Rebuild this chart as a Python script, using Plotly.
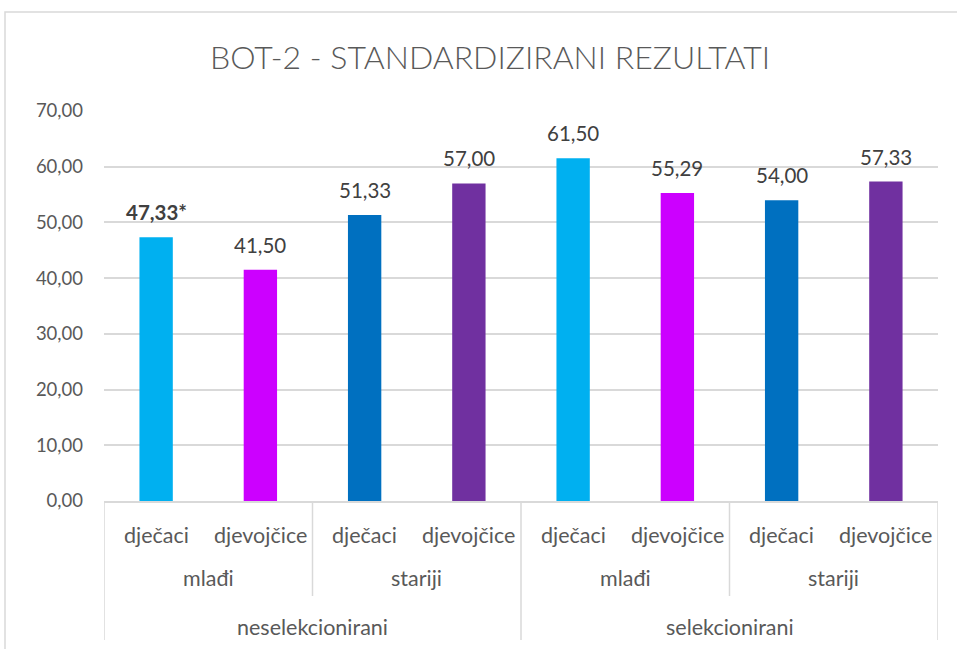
import plotly.graph_objects as go

# Data
groups = ["neselekcionirani", "selekcionirani"]
ages = ["mlađi", "stariji", "mlađi", "stariji"]
genders = ["dječaci", "djevojčice", "dječaci", "djevojčice",
           "dječaci", "djevojčice", "dječaci", "djevojčice"]
values = [47.33, 41.50, 51.33, 57.00, 61.50, 55.29, 54.00, 57.33]
labels = ["47,33*", "41,50", "51,33", "57,00", "61,50", "55,29", "54,00", "57,33"]
colors = ["#00B0F0", "#CC00FF", "#0070C0", "#7030A0",
          "#00B0F0", "#CC00FF", "#0070C0", "#7030A0"]

FONT = "Lato"
TXT = "#595959"
GRID = "#D9D9D9"

x = list(range(len(values)))

fig = go.Figure()
fig.add_trace(go.Bar(x=x, y=values, marker=dict(color=colors, line=dict(width=0)),
                     width=0.32, hoverinfo="skip"))

ann = []
# data labels
for i, (v, t) in enumerate(zip(values, labels)):
    ann.append(dict(x=i, y=v, xref="x", yref="y", text=(f"<b>{t}</b>" if i == 0 else t),
                    showarrow=False, yanchor="bottom", yshift=11,
                    font=dict(family=FONT, size=20.5, color="#404040")))
# level 1 labels
for i, g in enumerate(genders):
    ann.append(dict(x=i, y=0, xref="x", yref="paper", text=g, showarrow=False,
                    yanchor="middle", yshift=-34,
                    font=dict(family=FONT, size=21.5, color=TXT)))
# level 2 labels
for j, a in enumerate(ages):
    ann.append(dict(x=2 * j + 0.5, y=0, xref="x", yref="paper", text=a, showarrow=False,
                    yanchor="middle", yshift=-77,
                    font=dict(family=FONT, size=21.5, color=TXT)))
# level 3 labels
for k, g in enumerate(groups):
    ann.append(dict(x=4 * k + 1.5, y=0, xref="x", yref="paper", text=g, showarrow=False,
                    yanchor="middle", yshift=-126,
                    font=dict(family=FONT, size=21.5, color=TXT)))

PH = 390.0
PW = 834.0
shapes = []
for xs in [-0.5, 3.5, 7.5]:
    shapes.append(dict(type="line", xref="x", yref="paper", x0=xs, x1=xs, y0=0, y1=-139 / PH,
                       line=dict(color=GRID, width=1.5)))
for xs in [1.5, 5.5]:
    shapes.append(dict(type="line", xref="x", yref="paper", x0=xs, x1=xs, y0=0, y1=-95 / PH,
                       line=dict(color=GRID, width=1.5)))
# chart border
shapes.append(dict(type="rect", xref="paper", yref="paper",
                   x0=-99 / PW, x1=1.2, y0=-0.6, y1=(501 - 12) / PH,
                   line=dict(color=GRID, width=1.5)))

fig.update_layout(
    width=957, height=649,
    margin=dict(l=104, r=19, t=111, b=148),
    paper_bgcolor="white", plot_bgcolor="white",
    separators=",.",
    showlegend=False,
    title=dict(text="BOT-2 - STANDARDIZIRANI REZULTATI", x=490 / 957,
               xanchor="center",
               y=1 - 58 / 649, yanchor="middle",
               font=dict(family=FONT, size=32, color=TXT, weight=300)),
    xaxis=dict(range=[-0.5, 7.5], showticklabels=False, showgrid=False, zeroline=False,
               showline=True, linecolor=GRID, linewidth=1.5, ticks=""),
    yaxis=dict(range=[0, 70], dtick=10, tickformat=".2f", showgrid=True, gridcolor=GRID,
               gridwidth=1.5, zeroline=False, showline=False, ticks="",
               ticklabelstandoff=20,
               tickfont=dict(family=FONT, size=18.5, color=TXT)),
    annotations=ann, shapes=shapes,
)

fig.write_html("out.html", config={"displayModeBar": False},
               post_script="document.body.style.margin='0';document.body.style.overflow='hidden';")
